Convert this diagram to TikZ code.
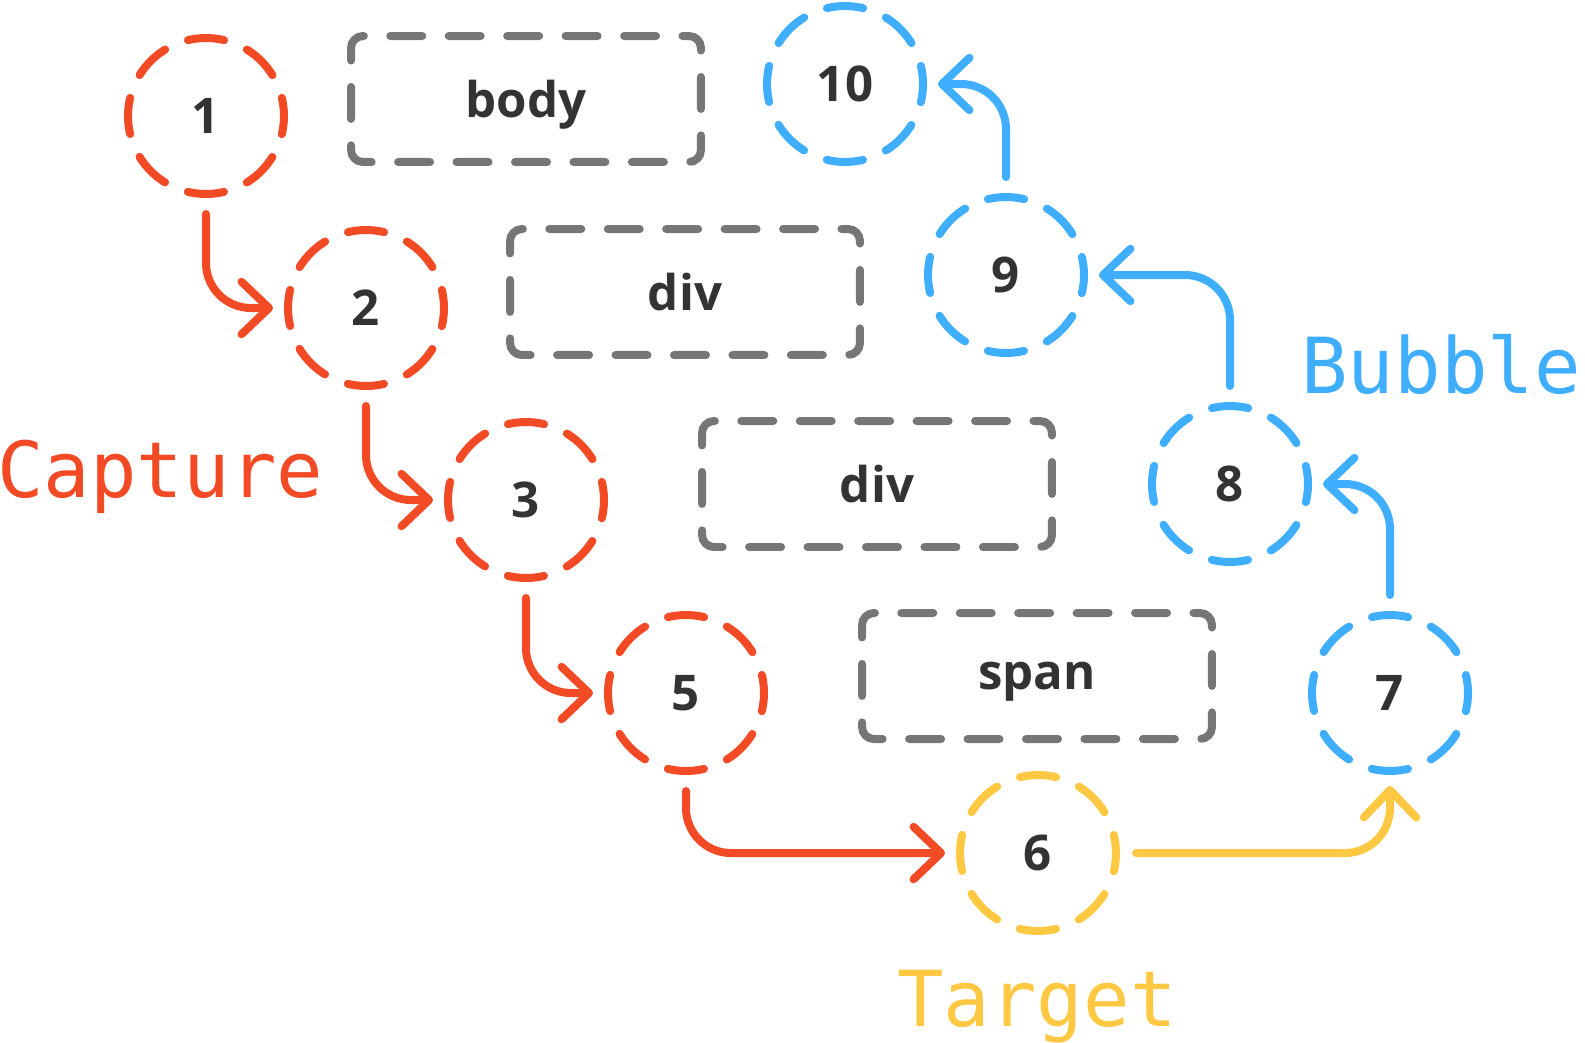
\documentclass[tikz,border=0pt]{standalone}
\usepackage{fontspec}
\setmainfont{Open Sans}
\setmonofont{DejaVu Sans Mono}
\usetikzlibrary{arrows.meta}
\definecolor{capred}{RGB}{243,74,38}
\definecolor{tgtyellow}{RGB}{255,200,67}
\definecolor{bubblue}{RGB}{64,174,255}
\definecolor{boxgray}{RGB}{118,118,118}
\definecolor{textdark}{RGB}{51,51,51}
\tikzset{
  evt/.style={circle,draw=#1,line width=1.6mm,line cap=round,minimum size=3.12cm,
              inner sep=0pt,outer sep=0.8mm,dash pattern=on 7.3mm off 4.95mm,dash phase=3.65mm,
              text=textdark,font=\fontsize{28}{28}\selectfont\bfseries},
  elem/.style={rectangle,rounded corners=2.4mm,draw=boxgray,line width=1.6mm,line cap=round,
               minimum width=7cm,minimum height=2.52cm,inner sep=0pt,outer sep=0.8mm,
               dash pattern=on 6.4mm off 5.29mm,dash phase=5.1mm,text depth=0pt,
               text=textdark,font=\fontsize{28}{28}\selectfont\bfseries},
  fl/.style={draw=#1,line width=1.6mm,line cap=round,rounded corners=9mm,
             -{Straight Barb[length=5.5mm,width=10.5mm,round]},shorten <=3.2mm,shorten >=2.2mm},
  lbl/.style={text=#1,inner sep=0pt,anchor=base west,font=\fontsize{44}{44}\selectfont\ttfamily},
}
\begin{document}
\begin{tikzpicture}[x=0.02cm,y=-0.02cm]
  \useasboundingbox (0,0) rectangle (1585,1042);
  % capture phase
  \node[evt=capred] (n1) at (206,116) {1};
  \node[evt=capred] (n2) at (366,308) {2};
  \node[evt=capred] (n3) at (526,500) {3};
  \node[evt=capred] (n5) at (686,693) {5};
  % target
  \node[evt=tgtyellow] (n6) at (1038,853) {6};
  % bubble phase
  \node[evt=bubblue] (n7) at (1390,693) {7};
  \node[evt=bubblue] (n8) at (1230,484) {8};
  \node[evt=bubblue] (n9) at (1006,275) {9};
  \node[evt=bubblue] (n10) at (845,84) {10};
  % dom elements
  \node[elem] (body) at (526,99) {body};
  \node[elem] (div1) at (685,292) {div};
  \node[elem] (div2) at (877,484) {div};
  \node[elem] (span) at (1037,676) {span};
  % labels
  \node[lbl=capred] (capture) at (-3,497) {Capture};
  \node[lbl=bubblue,anchor=base east] (bubble) at (1581,393) {Bubble};
  \node[lbl=tgtyellow] (target) at (897,1026) {Target};
  \draw[fl=capred] (n1) |- (n2);
  \draw[fl=capred] (n2) |- (n3);
  \draw[fl=capred] (n3) |- (n5);
  \draw[fl=capred] (n5) |- (n6);
  \draw[fl=tgtyellow] (n6) -| (n7);
  \draw[fl=bubblue] (n7) |- (n8);
  \draw[fl=bubblue] (n8) |- (n9);
  \draw[fl=bubblue] (n9) |- (n10);
\end{tikzpicture}
\end{document}
